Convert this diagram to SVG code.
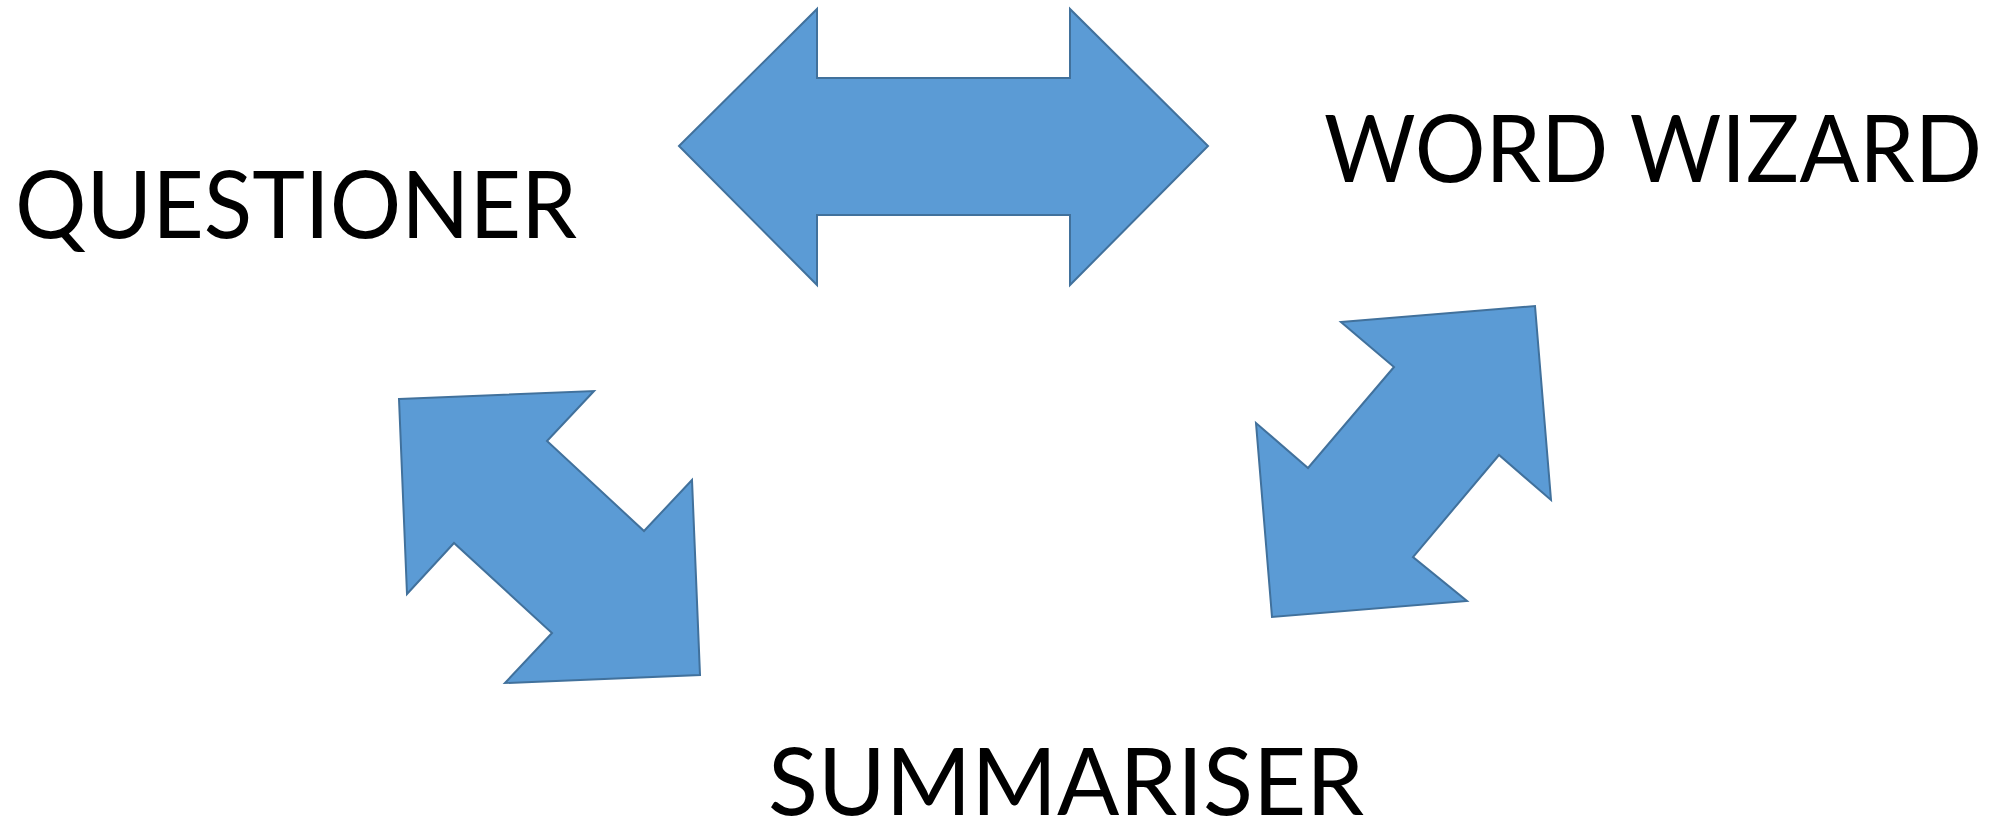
<svg xmlns="http://www.w3.org/2000/svg" width="1994" height="821" viewBox="0 0 1994 821">
<style>
.arrow{fill:#5B9BD5;stroke:#41719C;stroke-width:2;stroke-linejoin:miter}
.lbl{font-family:Lato,"Open Sans","Liberation Sans",sans-serif;font-size:94px;fill:#000}
</style>
<rect width="1994" height="821" fill="#fff"/>
<g id="connectors">
<polygon id="arrow-top" class="arrow" points="679,146 817,9 817,78 1070,78 1070,9 1208,146 1070,285 1070,215 817,215 817,285"/>
<polygon id="arrow-left" class="arrow" points="399,399 594,391 547,441 644,531 692,480 700,675 505,683 552,633 454,543 407,594"/>
<polygon id="arrow-right" class="arrow" points="1341,322 1535,306 1551,500 1499,455 1413,557 1467,601 1272,617 1256,423 1308,468 1394,367"/>
</g>
<g id="questioner"><text class="lbl" x="15" y="238" textLength="562" lengthAdjust="spacingAndGlyphs">QUESTIONER</text></g>
<g id="word-wizard"><text class="lbl" x="1324" y="182" textLength="658" lengthAdjust="spacingAndGlyphs">WORD WIZARD</text></g>
<g id="summariser"><text class="lbl" x="768" y="815" textLength="596" lengthAdjust="spacingAndGlyphs">SUMMARISER</text></g>
</svg>
